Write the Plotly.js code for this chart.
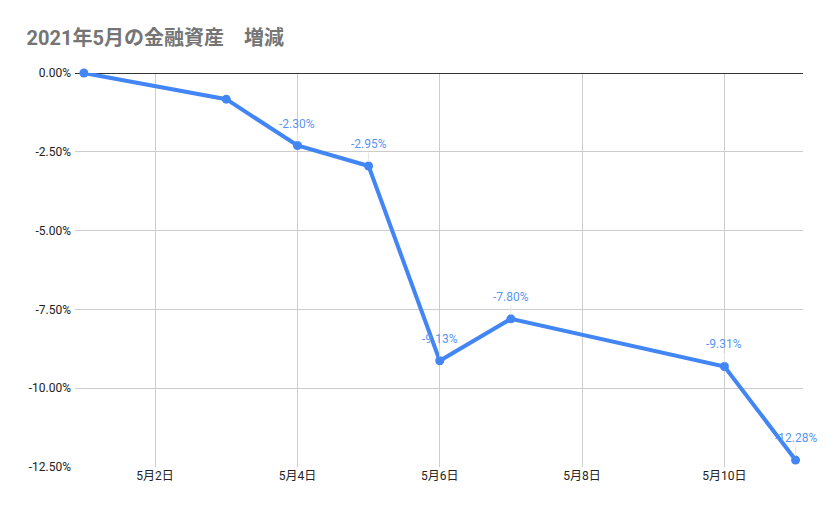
<!DOCTYPE html>
<html>
<head>
<meta charset="utf-8">
<script src="https://cdn.plot.ly/plotly-3.0.1.min.js"></script>
<style>
  html, body { margin: 0; padding: 0; background: #fff; }
  #graph { width: 829px; height: 514px; }
</style>
</head>
<body>
<div id="graph"></div>
<script>
// 2021年5月の金融資産 増減 (percent change)
const dates = ["2021-05-01", "2021-05-03", "2021-05-04", "2021-05-05", "2021-05-06", "2021-05-07", "2021-05-10", "2021-05-11"];
const changes = [0, -0.83, -2.30, -2.95, -9.13, -7.80, -9.31, -12.28];
const labels = ["", "", "-2.30%", "-2.95%", "-9.13%", "-7.80%", "-9.31%", "-12.28%"];
const tickDates = ["2021-05-02", "2021-05-04", "2021-05-06", "2021-05-08", "2021-05-10"];
const tickLabels = ["5月2日", "5月4日", "5月6日", "5月8日", "5月10日"];
const yTicks = [0, -2.5, -5, -7.5, -10, -12.5];
const yTickLabels = ["0.00%", "-2.50%", "-5.00%", "-7.50%", "-10.00%", "-12.50%"];

const trace = {
  x: dates,
  y: changes,
  type: "scatter",
  mode: "lines+markers",
  line: { color: "#4285f4", width: 4 },
  marker: { color: "#4285f4", size: 9 },
  cliponaxis: false,
  hoverinfo: "x+y",
};

// data labels sit above each point with a faint leader line
const labelNotes = [];
dates.forEach((d, i) => {
  if (!labels[i]) return;
  labelNotes.push({
    x: d,
    y: changes[i],
    text: labels[i],
    showarrow: true,
    arrowhead: 0,
    arrowwidth: 1,
    arrowcolor: "#e6e6e6",
    ax: 0,
    ay: -22,
    standoff: 4,
    font: { size: 12, color: "#5b95f5" },
  });
});

const layout = {
  width: 829,
  height: 514,
  font: { family: "Roboto, 'Noto Sans CJK JP', sans-serif", size: 12, color: "#222" },
  paper_bgcolor: "#fff",
  plot_bgcolor: "#fff",
  showlegend: false,
  title: {
    text: "<b>2021年5月の金融資産　増減</b>",
    font: { size: 20, color: "#757575", family: "Roboto, 'Noto Sans CJK JP', sans-serif" },
    x: 0.032,
    xanchor: "left",
    y: 0.926,
    yanchor: "middle",
  },
  margin: { l: 75, r: 26, t: 73, b: 47 },
  annotations: labelNotes,
  xaxis: {
    type: "date",
    range: ["2021-04-30 21:00", "2021-05-11 02:30"],
    tickvals: tickDates,
    ticktext: tickLabels,
    showgrid: true,
    gridcolor: "#cccccc",
    gridwidth: 1,
    zeroline: false,
    showline: false,
    ticks: "",
    tickfont: { size: 12, color: "#222" },
  },
  yaxis: {
    range: [-12.5, 0],
    tickvals: yTicks,
    ticktext: yTickLabels,
    showgrid: true,
    gridcolor: "#cccccc",
    gridwidth: 1,
    zeroline: true,
    zerolinecolor: "#333",
    zerolinewidth: 1,
    showline: false,
    ticks: "",
    ticklabelstandoff: 3,
    tickfont: { size: 12, color: "#222" },
  },
};

Plotly.newPlot("graph", [trace], layout, { displayModeBar: false, staticPlot: true });
</script>
</body>
</html>
